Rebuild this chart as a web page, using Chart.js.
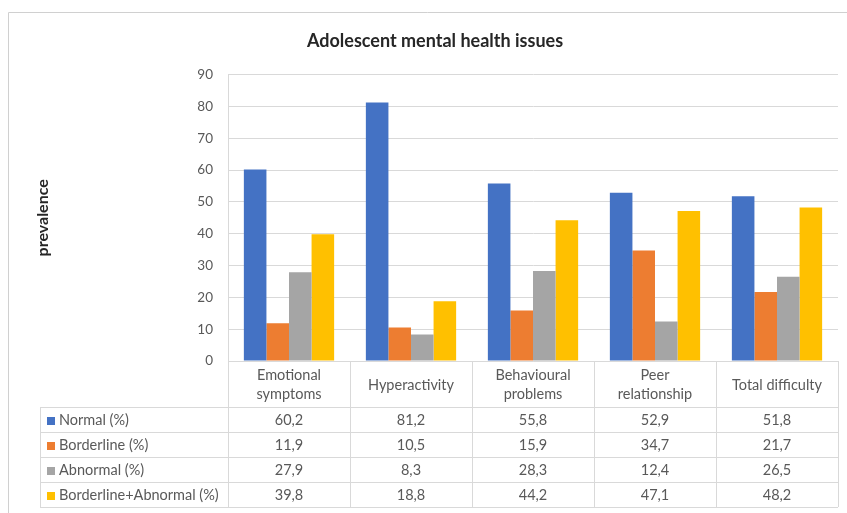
<!DOCTYPE html>
<html>
<head>
<meta charset="utf-8">
<script src="https://cdn.jsdelivr.net/npm/chart.js@4/dist/chart.umd.min.js"></script>
<style>
  html, body { margin: 0; padding: 0; background: #fff; }
  #wrap { width: 847px; height: 513px; position: relative; }
</style>
</head>
<body>
<div id="wrap"><canvas id="chart" width="847" height="513"></canvas></div>
<script>
// categories (table header labels)
const categories = [
  ["Emotional", "symptoms"],
  "Hyperactivity",
  ["Behavioural", "problems"],
  ["Peer", "relationship"],
  "Total difficulty",
];

// series values (%)
const normal = [60.2, 81.2, 55.8, 52.9, 51.8];
const borderline = [11.9, 10.5, 15.9, 34.7, 21.7];
const abnormal = [27.9, 8.3, 28.3, 12.4, 26.5];
const borderlineAbnormal = [39.8, 18.8, 44.2, 47.1, 48.2];

const seriesNames = [
  "Normal (%)",
  "Borderline (%)",
  "Abnormal (%)",
  "Borderline+Abnormal (%)",
];
const seriesColors = ["#4472C4", "#ED7D31", "#A5A5A5", "#FFC000"];

// y axis
const yMin = 0;
const yMax = 90;
const yStep = 10;

const FONT = "Lato, 'Open Sans', sans-serif";
const TEXT = "#595959";
const LINE = "#d9d9d9";

// draws the data table under the plot, aligned to the x scale
const dataTablePlugin = {
  id: "dataTable",
  beforeDraw(chart) {
    const ctx = chart.ctx;
    // outer chart frame
    ctx.save();
    ctx.strokeStyle = "#d0d0d0";
    ctx.lineWidth = 1;
    ctx.beginPath();
    ctx.moveTo(8.5, 513);
    ctx.lineTo(8.5, 12.5);
    ctx.lineTo(847, 12.5);
    ctx.stroke();
    ctx.restore();
  },
  afterDraw(chart) {
    const ctx = chart.ctx;
    const area = chart.chartArea;
    const x = chart.scales.x;
    const n = categories.length;
    const colW = (area.right - area.left) / n;

    const tableLeft = 40;
    const headerTop = area.bottom;
    const headerBottom = headerTop + 46;
    const rowH = 25;
    const rows = [normal, borderline, abnormal, borderlineAbnormal];
    const tableBottom = headerBottom + rowH * rows.length;

    ctx.save();
    ctx.strokeStyle = LINE;
    ctx.lineWidth = 1;

    // vertical lines at category boundaries
    for (let i = 0; i <= n; i++) {
      const vx = Math.round(area.left + i * colW) + 0.5;
      ctx.beginPath();
      ctx.moveTo(vx, headerTop);
      ctx.lineTo(vx, tableBottom);
      ctx.stroke();
    }
    // left edge of legend column
    ctx.beginPath();
    ctx.moveTo(tableLeft + 0.5, headerBottom);
    ctx.lineTo(tableLeft + 0.5, tableBottom);
    ctx.stroke();

    // horizontal row lines
    for (let r = 0; r <= rows.length; r++) {
      const hy = Math.round(headerBottom + r * rowH) + 0.5;
      ctx.beginPath();
      ctx.moveTo(tableLeft, hy);
      ctx.lineTo(area.right, hy);
      ctx.stroke();
    }

    // header labels
    ctx.fillStyle = TEXT;
    ctx.font = "14.5px " + FONT;
    ctx.textAlign = "center";
    ctx.textBaseline = "middle";
    const headerMid = (headerTop + headerBottom) / 2 + 1;
    categories.forEach((label, i) => {
      const cx = x.getPixelForValue(i);
      const lines = Array.isArray(label) ? label : [label];
      const lh = 19;
      lines.forEach((line, j) => {
        const ly = headerMid + (j - (lines.length - 1) / 2) * lh;
        ctx.fillText(line, cx, ly);
      });
    });

    // rows: legend key + values
    rows.forEach((vals, r) => {
      const cy = headerBottom + r * rowH + rowH / 2 + 1;
      ctx.fillStyle = seriesColors[r];
      ctx.fillRect(tableLeft + 7, Math.round(cy - 4), 8, 8);
      ctx.fillStyle = TEXT;
      ctx.textAlign = "left";
      ctx.fillText(seriesNames[r], tableLeft + 19, cy);
      ctx.textAlign = "center";
      vals.forEach((v, i) => {
        ctx.fillText(v.toFixed(1).replace(".", ","), x.getPixelForValue(i), cy);
      });
    });
    ctx.restore();
  },
};

const seriesData = [normal, borderline, abnormal, borderlineAbnormal];

new Chart(document.getElementById("chart"), {
  type: "bar",
  data: {
    labels: categories,
    datasets: seriesData.map((data, i) => ({
      label: seriesNames[i],
      data: data,
      backgroundColor: seriesColors[i],
      borderWidth: 0,
      categoryPercentage: 0.74,
      barPercentage: 1.0,
    })),
  },
  options: {
    responsive: false,
    animation: false,
    layout: {
      padding: { top: 12, right: 9, bottom: 0, left: 32 },
    },
    plugins: {
      legend: { display: false },
      tooltip: { enabled: false },
      title: {
        display: true,
        text: "Adolescent mental health issues",
        color: "#262626",
        font: { family: FONT, size: 18, weight: "bold" },
        padding: { top: 18, bottom: 23 },
      },
    },
    scales: {
      x: {
        ticks: { display: false },
        grid: { display: false },
        border: { display: true, color: LINE },
        afterFit(scale) {
          scale.height = 152;
        },
      },
      y: {
        min: yMin,
        max: yMax,
        ticks: {
          stepSize: yStep,
          color: TEXT,
          padding: 15,
          font: { family: FONT, size: 13.5 },
        },
        grid: { color: LINE, drawTicks: false },
        border: { display: true, color: LINE },
        title: {
          display: true,
          text: "prevalence",
          color: "#262626",
          font: { family: FONT, size: 16, weight: "bold" },
          padding: { top: 1, bottom: 0 },
        },
        afterFit(scale) {
          scale.width = 196;
        },
      },
    },
  },
  plugins: [dataTablePlugin],
});
</script>
</body>
</html>
